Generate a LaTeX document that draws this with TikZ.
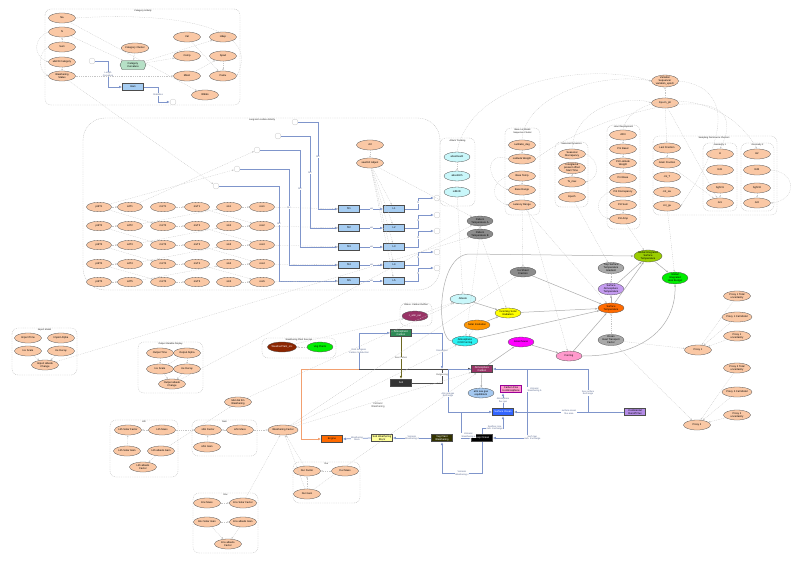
\documentclass[tikz,border=0pt]{standalone}
\usepackage{fontspec}
\setmainfont{Liberation Sans}
\usetikzlibrary{arrows.meta,shapes.geometric,shapes.symbols,positioning,calc}

\definecolor{peachc}{HTML}{FAC8A5}
\definecolor{flowc}{HTML}{7F95CB}
\definecolor{boxblue}{HTML}{A6CDF2}
\definecolor{hexgreen}{HTML}{B6E0C6}
\definecolor{lcyan}{HTML}{C9F7FA}
\definecolor{cyanc}{HTML}{2CF2F2}
\definecolor{greyc}{HTML}{8C8C8C}
\definecolor{greyl}{HTML}{A8A8A8}
\definecolor{purplec}{HTML}{C49BF0}
\definecolor{orangec}{HTML}{FF6A00}
\definecolor{solarc}{HTML}{FF9500}
\definecolor{olivec}{HTML}{9ACD00}
\definecolor{greenc}{HTML}{00EE00}
\definecolor{yellowc}{HTML}{FFFF00}
\definecolor{magentac}{HTML}{FF00FF}
\definecolor{pinkc}{HTML}{FF99CC}
\definecolor{maroonc}{HTML}{993366}
\definecolor{brownc}{HTML}{8B2500}
\definecolor{seagreenc}{HTML}{2E8B57}
\definecolor{asgc}{HTML}{A4C8F0}
\definecolor{oceanc}{HTML}{3366FF}
\definecolor{tropc}{HTML}{B48CE6}
\definecolor{vegc}{HTML}{333300}
\definecolor{swbc}{HTML}{FFFF99}
\definecolor{orangel}{HTML}{F2A070}

\tikzset{
  peach/.style={ellipse, draw=gray!65!black, fill=peachc, line width=0.3pt,
    minimum width=27pt, minimum height=10pt, inner sep=0pt, align=center},
  gridnode/.style={peach, minimum width=25pt, minimum height=9.5pt},
  oval/.style={ellipse, draw=gray!65!black, line width=0.3pt,
    minimum width=26pt, minimum height=10pt, inner sep=0pt, align=center},
  hexa/.style={signal, signal to=east and west, signal pointer angle=130,
    draw=gray!60!black, fill=hexgreen, line width=0.3pt,
    minimum width=26pt, minimum height=9pt, inner sep=0.5pt, align=center},
  blok/.style={rectangle, draw=gray!60!black, line width=0.7pt,
    minimum width=21pt, minimum height=7.5pt, inner sep=0.6pt, align=center},
  port/.style={circle, draw=gray!45, fill=white, line width=0.3pt,
    minimum size=6pt, inner sep=0pt},
  cluster/.style={draw=gray!55, line width=0.35pt,
    dash pattern=on 0.9pt off 0.9pt, rounded corners=6pt},
  clab/.style={font=\fontsize{2.3}{2.7}\selectfont, text=gray!20!black,
    anchor=north, inner sep=0.6pt, align=center},
  dep/.style={draw=gray!45, line width=0.3pt, dash pattern=on 0.9pt off 0.9pt,
    -{Latex[length=2pt,width=1.6pt]}},
  flow/.style={draw=flowc, line width=0.75pt, -{Latex[length=3pt,width=2.6pt]}},
  darkf/.style={draw=black!70, line width=0.75pt},
  olivef/.style={draw=olive!70!black, line width=0.75pt, -{Latex[length=3pt,width=2.6pt]}},
  orangef/.style={draw=orangel, line width=0.75pt, -{Latex[length=3pt,width=2.6pt]}},
  link/.style={draw=gray!65, line width=0.5pt, -{Latex[length=2.5pt,width=2pt]}},
  lbl/.style={font=\fontsize{2.3}{2.6}\selectfont, text=flowc!70!black,
    fill=white, inner sep=0.3pt, align=center},
}

\begin{document}
\begin{tikzpicture}[x=1pt,y=-1pt,
    every node/.style={font=\fontsize{2.6}{3}\selectfont}]
  \useasboundingbox (0,0) rectangle (800,563);

  % category activity cluster
  \draw[cluster] (45,9) rectangle (240,105);
  \node[clab] (catlab) at (143,9.5) {Category Activity};
  \node[peach] (na) at (62,18) {Na};
  \node[peach] (nn) at (62,32) {N};
  \node[peach] (sum) at (62,47) {Sum};
  \node[peach] (ucat) at (62,62) {ubiCR Category};
  \node[peach] (wstat) at (62,76) {Weathering\\Status};
  \node[peach] (ccl) at (135,48) {Category Cluster};
  \node[hexa] (ccurv) at (133,65) {Category\\Curvature};
  \node[blok, fill=boxblue] (hars) at (133,87) {Hars};
  \node[port] (cin) at (92,61) {};
  \node[port] (cout) at (173,102) {};
  \node[peach] (val) at (187,37) {Val};
  \node[peach] (comp) at (187,56) {Comp};
  \node[peach] (mtest) at (187,76) {Mtest};
  \node[peach] (hdep) at (223,37) {Hdep};
  \node[peach] (spad) at (223,56) {Spad};
  \node[peach] (pamu) at (223,76) {Pamu};
  \node[peach] (wbrk) at (205,95) {Wbrks};

  \draw[flow] (cin.east) -| (108,87) node[lbl, pos=0.75] {Length\\Curvature} -- (hars.west);
  \draw[flow] (hars.east) -| (158,102) node[lbl, pos=0.75] {Stabilities} -- (cout.west);

  \draw[dep] (sum) -- (nn);
  \draw[dep] (ucat) -- (wstat);
  \draw[dep] (nn) -- (ccurv);
  \draw[dep] (na) -- (wbrk);
  \draw[dep] (wstat) -- (mtest);
  \draw[dep] (ccurv) -- (hdep);
  \draw[dep] (ccurv) -- (comp);
  \draw[dep] (ccl) -- (ccurv);
  \draw[dep] (val) -- (pamu);
  \draw[dep] (spad) -- (pamu);
  \draw[dep] (mtest) -- (spad);
  \draw[dep] (nn.west) .. controls (33,38) and (33,56) .. (ucat.west);
  \draw[dep] (sum.west) .. controls (38,52) and (38,70) .. (wstat.west);
  \draw[dep] (na.east) .. controls (170,12) and (262,25) .. (pamu.east);

  % long-term lattice cluster
  \draw[cluster, rounded corners=22pt] (83,118) rectangle (440,290);
  \node[clab] (ltlab) at (262,118.5) {Long-term Lattice Activity};
  \foreach \r/\y in {1/207,2/226,3/245,4/264,5/282}{
    \node[gridnode] (prd\r) at (99,\y) {prdT\r};
    \node[gridnode] (sd\r) at (130,\y) {sdT\r};
    \node[gridnode] (mn\r) at (163,\y) {mnT\r};
    \node[gridnode] (mx\r) at (197,\y) {mxT\r};
    \node[gridnode] (sin\r) at (229,\y) {sin\r};
    \node[gridnode] (cos\r) at (262,\y) {cos\r};
    \draw[dep] (prd\r) -- (sd\r);
    \draw[dep] (mn\r) -- (mx\r);
    \draw[dep] (sin\r) -- (cos\r);
  }
  \foreach \r/\s in {1/2,2/3,3/4,4/5}{
    \draw[dep] (prd\r) -- (mn\s);
    \draw[dep] (sd\s) -- (sin\r);
    \draw[dep] (mx\r) -- (cos\s);
  }
  \node[peach] (ctrl) at (370,145) {ctrl};
  \node[peach] (sadj) at (370,163) {sewDirt Adjust};
  \draw[dep] (ctrl) -- (sadj);
  \foreach \r/\y/\px/\py/\bx/\oy in {1/209/295/122/318/198, 2/228/278/136/310/215,
      3/247/257/150/300/231, 4/265/237/169/289/252, 5/281/216/186/279/268}{
    \node[port] (in\r) at (\px,\py) {};
    \node[blok, fill=boxblue] (f\r) at (349,\y) {fit\r};
    \node[blok, fill=boxblue] (g\r) at (394,\y) {L\r};
    \node[port] (out\r) at (437,\oy) {};
    \draw[flow] (in\r.east) -| (\bx,\y) node[lbl, pos=0.7] {bkt} -- (f\r.west);
    \draw[flow] (f\r) -- (g\r) node[lbl, midway] {val};
    \draw[flow] (g\r.east) -- (418,\y) |- (out\r.west) node[lbl, pos=0.3] {fit};
    \draw[dep] (cos\r) -- (f\r);
    \draw[dep] (sadj) -- (g\r);
  }
  \draw[dep] (wstat) -- (in5);
  \draw[dep] (prd1) -- (in4);
  \draw[dep] (sd1) -- (in3);

  % attack tracking
  \draw[cluster] (440,138) rectangle (475,206);
  \node[clab] (atlab) at (457.5,139) {Attack Tracking};
  \node[oval, fill=lcyan] (ab1) at (457,157) {absoDeath};
  \node[oval, fill=lcyan] (ab2) at (457,176) {absoBirth};
  \node[oval, fill=lcyan] (ab3) at (457,192) {sdBirth};
  \draw[dep] (ab1) -- (ab2);

  % base latitude cluster
  \draw[cluster] (505,128) rectangle (540,215);
  \node[clab] (bllab) at (522.5,128.5) {Base Lat Model\\Sequence Cluster};
  \node[peach] (bl1) at (522,145) {LatRatio\_deg};
  \node[peach] (bl2) at (522,159) {Latitude Weight};
  \node[peach] (bl3) at (522,176) {Base Temp};
  \node[peach] (bl4) at (522,190) {Base Range};
  \node[peach] (bl5) at (522,205) {Latency Range};
  \draw[dep] (bl1) -- (bl2);
  \draw[dep] (bl3) -- (bl4);
  \draw[dep] (bl2.west) .. controls (485,150) and (485,180) .. (bl4.west);
  \draw[dep] (bl3.west) .. controls (490,182) and (490,200) .. (bl5.west);

  % seasonal cluster
  \draw[cluster] (555,142) rectangle (588,207);
  \node[clab] (selab) at (571.5,142.5) {Seasonal Dynamics};
  \node[peach] (se1) at (572,154) {Seasonal\\Discrepancy};
  \node[peach, minimum height=11pt] (se2) at (572,168) {Interglacial\\present offset\\Start Time};
  \node[peach] (se3) at (572,182) {Ts\_max};
  \node[peach] (se4) at (572,197) {Epoch};
  \draw[dep] (se2) -- (se3);
  \draw[dep] (se1.east) .. controls (600,160) and (600,178) .. (se3.east);

  % hour development cluster
  \draw[cluster] (607,125) rectangle (640,229);
  \node[clab] (hdlab) at (623.5,125.5) {Hour Development};
  \foreach \n/\y/\t in {1/135/dPnt, 2/149/Pnt Basel, 3/163/{Pnt Latitude\\Weight},
      4/178/Pnt Base, 5/192/Pnt Discrepancy, 6/205/Pnt Sum, 7/219/Pnt Amp}{
    \node[peach] (hd\n) at (623,\y) {\t};
  }
  \foreach \n/\m in {1/2,2/3,3/4,6/7}{
    \draw[dep] (hd\n) -- (hd\m);
  }
  \draw[dep] (hd5.west) .. controls (595,198) and (595,214) .. (hd7.west);

  % sequencer
  \node[peach, minimum height=11pt] (vsq) at (665,81) {Variation\\Sequencer\\variation\_epoch};
  \node[peach] (eplt) at (665,103) {Epoch\_plt};
  \draw[dep] (eplt) -- (vsq);

  % sampling cluster
  \draw[cluster] (653,136) rectangle (777,215);
  \node[clab] (smlab) at (714,136.3) {Sampling Dominance Clusters};
  \draw[cluster] (703,143) rectangle (737,211);
  \node[clab] (g1lab) at (720,143.3) {Geometry 1};
  \draw[cluster] (741,143) rectangle (774,211);
  \node[clab] (g2lab) at (757.5,143.3) {Geometry 2};
  \node[peach] (sm1) at (667,148) {Last Fraction};
  \node[peach] (sm2) at (667,163) {Grain Fraction};
  \node[peach] (sm3) at (667,177) {cnt\_T};
  \node[peach] (sm4) at (667,192) {cnt\_sw};
  \node[peach] (sm5) at (667,206) {cnt\_ga};
  \node[peach] (g1a) at (720,154) {H};
  \node[peach] (g1b) at (720,170) {Rd1};
  \node[peach] (g1c) at (720,188) {Sgfrct1};
  \node[peach] (g1d) at (720,203) {Gr1};
  \node[peach] (g2a) at (757,154) {H2};
  \node[peach] (g2b) at (757,170) {Rd2};
  \node[peach] (g2c) at (757,188) {Sgfrct2};
  \node[peach] (g2d) at (757,203) {Gr2};
  \draw[dep] (sm1) -- (sm2);
  \draw[dep] (g1c) -- (g1d);
  \draw[dep] (g2c) -- (g2d);
  \draw[dep] (sm2) -- (g1d);
  \draw[dep] (g2b.east) .. controls (797,172) and (797,200) .. (g2d.east);
  \draw[dep] (eplt) -- (sm1);
  \draw[dep] (eplt) -- (g1d);

  % big arcs over the top
  \draw[dep] (ab1.north) .. controls (470,80) and (590,62) .. (vsq.west);
  \draw[dep] (bl1.north) .. controls (525,95) and (600,72) .. (vsq.west);
  \draw[dep] (se1.north) .. controls (575,105) and (630,95) .. (eplt.west);
  \draw[dep] (hd1.north) .. controls (630,92) and (720,85) .. (g2a.north);
  \draw[dep] (bl2.east) .. controls (600,110) and (760,70) .. (g1a.north);
  \draw[dep] (vsq.east) .. controls (720,85) and (740,120) .. (sm5.east);

  % climate core
  \node[oval, fill=greyc] (sta1) at (480,221) {Pattern\\Temperature A};
  \node[oval, fill=greyc] (sta2) at (480,234) {Pattern\\Temperature B};
  \node[oval, fill=greyc] (sif) at (523,272) {Ice Sheet\\Fraction};
  \node[oval, fill=greyl, minimum height=11pt] (tgr) at (611,268) {Trop Surface\\Temperature\\Gradient};
  \node[oval, fill=purplec, minimum height=11pt] (sat) at (611,289) {Surface\\Atmosphere\\Temperature};
  \node[oval, fill=orangec] (stemp) at (611,308) {Surface\\Temperature};
  \node[oval, fill=olivec, minimum height=11pt] (gmt) at (648,256) {Global Integrated\\Surface\\Temperature};
  \node[oval, fill=greenc, minimum height=11pt] (gth) at (675,278) {Global\\Integrated\\Heat Budget};
  \node[oval, fill=lcyan] (alb) at (463,299) {Albedo};
  \node[oval, fill=yellowc] (cld) at (508,313) {Incoming Solar\\Radiation};
  \node[oval, fill=solarc] (sol) at (477,325) {Solar Insolation};
  \node[oval, fill=cyanc] (aco) at (465,341) {Atmospheric\\CO2 Forcing};
  \node[oval, fill=magentac] (mag) at (521,342) {Greenhouse};
  \node[oval, fill=pinkc] (pnk) at (569,356) {Forcing};
  \node[oval, fill=greyl, minimum height=11pt] (oht) at (611,340) {Ocean\\Heat Transport\\Factor};

  \draw[link] (alb) -- (cld);
  \draw[link] (sol) -- (cld);
  \draw[link] (cld) -- (stemp);
  \draw[link] (sif) -- (stemp);
  \draw[link] (aco) -- (stemp);
  \draw[link] (pnk) -- (stemp);
  \draw[link] (stemp) -- (sat);
  \draw[link] (sat) -- (gmt);
  \draw[link] (stemp) -- (gmt);
  \draw[link] (gmt) -- (gth);
  \draw[link] (mag) -- (pnk);
  \draw[link] (pnk.east) .. controls (650,356) and (676,322) .. (gth.south);
  \draw[link] (aco.west) .. controls (436,341) and (436,254) .. (470,254) -- (gmt.west);

  \draw[dep] (sta1) -- (sta2);
  \draw[dep] (sta2) -- (aco);
  \draw[dep] (sta2) -- (cld);
  \draw[dep] (ab3) -- (alb);
  \draw[dep] (bl5) -- (stemp);
  \draw[dep] (bl4) -- (pnk);
  \draw[dep] (se4) -- (tgr);
  \draw[dep] (hd7) -- (gmt);
  \draw[dep] (sm5) -- (gth);
  \draw[dep] (tgr) -- (sat);
  \draw[dep] (oht) -- (stemp);
  \draw[dep] (sol) -- (aco);
  \draw[dep] (sadj) -- (sta1);
  \draw[dep] (bl5) -- (sif);

  % proxies
  \node[peach] (px1tu) at (737,296) {Proxy 1 Total\\uncertainty};
  \node[peach] (px1cm) at (737,317) {Proxy 1 Cal Model};
  \node[peach] (px1u) at (737,336) {Proxy 1\\uncertainty};
  \node[peach] (px2tu) at (737,368) {Proxy 2 Total\\uncertainty};
  \node[peach] (px2cm) at (737,392) {Proxy 2 Cal Model};
  \node[peach] (px2u) at (737,415) {Proxy 2\\uncertainty};
  \node[peach] (px1) at (698,350) {Proxy 1};
  \node[peach] (px2) at (697,425) {Proxy 2};
  \foreach \p in {px1tu,px1cm,px1u}{ \draw[dep] (\p) -- (px1); }
  \foreach \p in {px2tu,px2cm,px2u}{ \draw[dep] (\p) -- (px2); }
  \draw[dep] (oht) -- (px1);
  \draw[dep] (oht) -- (px2);

  % carbon cycle boxes
  \draw[cluster] (262,338) rectangle (336,358);
  \node[clab] (wplab) at (299,338.3) {Weathering Plant Sources};
  \node[oval, fill=brownc, text=white] (brw) at (282,347) {WeatherPlant\_src};
  \node[oval, fill=greenc] (grn) at (320,347) {Veg Plants};
  \draw[dep] (grn) -- (brw);
  \draw[cluster] (400,303) rectangle (432,326);
  \node[clab] (calab) at (416,303.3) {Atmos. Carbon Outflux};
  \node[oval, fill=maroonc, text=white] (catm) at (415,316) {c\_atm\_out};

  \node[blok, fill=seagreenc, text=white] (acarb) at (401,333) {Atmospheric\\Carbon};
  \node[blok, fill=black!80, text=white] (soil) at (401,383) {Soil};
  \node[blok, fill=maroonc, text=white] (atmc) at (482,369) {Atmosphere\\Carbon};
  \node[oval, fill=asgc] (asg) at (481,393) {atm sea gas\\equilibrium};
  \node[blok, fill=pinkc, draw=magentac!60!black] (cfa) at (511,389) {Carbon Flux\\to Atmosphere};
  \node[blok, fill=oceanc, text=white] (socn) at (503,412) {Surface Ocean};
  \node[blok, fill=tropc] (trop) at (635,412) {Continental\\Runoff Flux};
  \node[blok, fill=black, text=white] (ign) at (482,438) {Deep Ocean};
  \node[blok, fill=vegc, text=white] (veg) at (442,438) {Veg Plant\\Weathering};
  \node[blok, fill=swbc] (swb) at (382,438) {Sub Weathering\\Block};
  \node[blok, fill=orangec] (eng) at (332,439) {Engine};

  \coordinate (jn) at (359,369);
  \coordinate (jr) at (442,369);
  \coordinate (jo) at (588,412);
  \coordinate (jv) at (527,369);
  \coordinate (jg) at (461,412);

  \draw[flow] (jn) |- (acarb.west) node[lbl, pos=0.25] {Diss Inorganic\\Carbon Subduction};
  \draw[flow] (acarb.east) -| (jr) node[lbl, pos=0.75] {Dissolution};
  \draw[darkf] (soil.east) -| (jr) node[lbl, pos=0.8, text=black!70] {Outgassing};
  \draw[darkf, -{Latex[length=3pt,width=2.6pt]}] (jn) -- (atmc.west);
  \draw[olivef] (acarb) -- (soil) node[lbl, midway, text=black!70] {Sea Carbon};
  \draw[orangef] (jn) -| (301,439) -- (eng.west);
  \draw[flow] (atmc.west) -- (448,369) |- (socn.west) node[lbl, pos=0.3] {Atm sea gas\\Exchange};
  \draw[flow] (trop.west) -- (socn.east) node[lbl, pos=0.5] {surface ocean\\flux area};
  \draw[flow] (jo) |- (atmc.east) node[lbl, pos=0.22] {Sea surface\\Exchange};
  \draw[flow] (jv) |- (ign.east) node[lbl, pos=0.15, right] {Volcanic\\Weathering b}
    node[lbl, pos=0.55, right] {Surf map\\carb. Exchange};
  \draw[flow] (jg) |- (ign.west) node[lbl, pos=0.45, right] {Volcanic\\Weathering a};
  \draw[flow] (ign.north) -- ++(0,-6) -| (socn.south) node[lbl, pos=0.3] {Seafloor core\\carb. Exchange};
  \draw[flow] (socn.north) -- (socn.north |- cfa.south) node[lbl, midway] {Atmosphere\\flux gas};
  \draw[flow] (ign.south) -- ++(0,31) -| (veg.south) node[lbl, pos=0.25] {Volcanic\\Weathering c};
  \draw[flow] (veg.west) -- (swb.east) node[lbl, midway] {Volcanic\\Weathering d};
  \draw[flow] (swb.west) -- (eng.east) node[lbl, midway] {Weathering\\block};
  \draw[link] (atmc) -- (asg);
  \draw[link] (atmc) -- (mag);
  \node[text=black!70, align=center] (vwlab) at (378,405) {Volcanic\\Weathering};
  \draw[dep] (catm) -- (alb);
  \draw[dep] (brw) -- (catm);

  % import / output clusters
  \draw[cluster] (12,328) rectangle (77,375);
  \node[clab] (imlab) at (44.5,328.3) {Import Model};
  \node[peach] (imt) at (28,338) {Import Time};
  \node[peach] (ima) at (61,338) {Import Alpha};
  \node[peach] (icl) at (28,351) {Ice Scale};
  \node[peach] (ifr) at (61,351) {Ice Decay};
  \node[peach] (iad) at (45,365) {Import albedo\\Change};
  \draw[dep] (icl) -- (iad);
  \draw[dep] (ifr) -- (iad);
  \draw[cluster] (138,342) rectangle (203,393);
  \node[clab] (oulab) at (170.5,342.3) {Output Variable Display};
  \node[peach] (ot) at (160,353) {Output Time};
  \node[peach] (oa) at (187,353) {Output Alpha};
  \node[peach] (os) at (160,369) {Ice Scale};
  \node[peach] (od) at (187,369) {Ice Decay};
  \node[peach] (oad) at (172,384) {Output albedo\\Change};
  \draw[dep] (ot) -- (os);
  \draw[dep] (oa) -- (od);
  \draw[dep] (oa) -- (os);
  \draw[dep] (os) -- (oad);
  \draw[dep] (od) -- (oad);
  \draw[dep] (iad) -- (sta2);
  \draw[dep] (oad) -- (sta1);

  % weathering clusters
  \node[peach] (mdw) at (238,402) {Met dat ttm\\Weathering};
  \draw[cluster] (110,420) rectangle (178,477);
  \node[clab] (lilab) at (144,420.3) {Lith};
  \node[peach] (lsf) at (128,430) {Lith Solar Factor};
  \node[peach] (lm) at (162,430) {Lith Mass};
  \node[peach] (lsg) at (127,451) {Lith Solar Gain};
  \node[peach] (lag) at (161,451) {Lith albedo Gain};
  \node[peach] (laf) at (143,467) {Lith albedo\\Factor};
  \draw[cluster] (192,420) rectangle (257,456);
  \node[clab] (salab) at (224.5,420.3) {Sam};
  \node[peach] (ssf) at (208,430) {sZin Factor};
  \node[peach] (sm) at (240,430) {sZin Mass};
  \node[peach] (sg) at (207,447) {sZin Gain};
  \node[peach] (wf) at (283,430) {Weathering Factor};
  \draw[cluster] (293,462) rectangle (360,503);
  \node[clab] (dulab) at (326.5,462.3) {Dur};
  \node[peach] (df) at (307,471) {Dur Factor};
  \node[peach] (dm) at (345,471) {Dur Mass};
  \node[peach] (dg) at (307,494) {Dur Gain};
  \draw[cluster] (193,493) rectangle (258,553);
  \node[clab] (enlab) at (225.5,493.3) {Env};
  \node[peach] (em) at (207,503) {Env Mass};
  \node[peach] (esf) at (243,503) {Env Solar Factor};
  \node[peach] (esg) at (207,522) {Env Solar Gain};
  \node[peach] (eag) at (243,522) {Env albedo Gain};
  \node[peach] (eaf) at (228,544) {Env albedo\\Factor};

  \draw[dep] (lm) -- (lsf);
  \draw[dep] (lsg) -- (lsf);
  \draw[dep] (lag) -- (laf);
  \draw[dep] (lm) -- (ssf);
  \draw[dep] (sm) -- (ssf);
  \draw[dep] (sg) -- (ssf);
  \draw[dep] (sm) -- (wf);
  \draw[dep] (dm) -- (df);
  \draw[dep] (dg) -- (df);
  \draw[dep] (df) -- (wf);
  \draw[dep] (dg) -- (wf);
  \draw[dep] (em) -- (esf);
  \draw[dep] (esg) -- (eaf);
  \draw[dep] (eag) -- (eaf);
  \draw[dep] (esf) -- (wf);
  \draw[dep] (esg) -- (eag);
  \draw[dep] (lag) -- (mdw);
  \draw[dep] (mdw) -- (alb);
  \draw[dep] (wf) -- (aco);
  \draw[dep] (wf) -- (sif);
  \draw[dep] (wf) -- (atmc);
  \draw[dep] (dg) -- (atmc);
\end{tikzpicture}
\end{document}
